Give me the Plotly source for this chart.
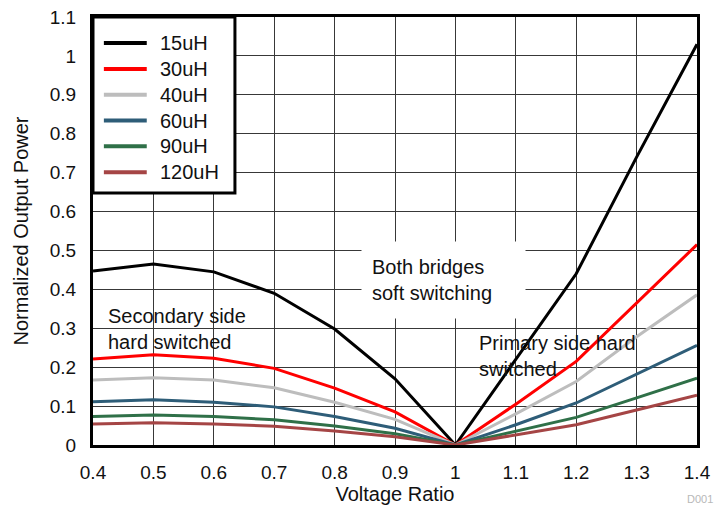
import plotly.graph_objects as go

# Voltage ratio sweep
voltage_ratio = [0.4, 0.5, 0.6, 0.7, 0.8, 0.9, 1.0, 1.1, 1.2, 1.3, 1.4]

# Normalized output power per series inductance
p_15uH = [0.447, 0.465, 0.445, 0.390, 0.298, 0.170, 0.0, 0.220, 0.440, 0.740, 1.030]
p_30uH = [0.221, 0.232, 0.223, 0.197, 0.146, 0.085, 0.0, 0.105, 0.215, 0.365, 0.515]
p_40uH = [0.167, 0.173, 0.167, 0.147, 0.110, 0.066, 0.0, 0.080, 0.163, 0.278, 0.386]
p_60uH = [0.111, 0.116, 0.110, 0.098, 0.073, 0.043, 0.0, 0.052, 0.108, 0.182, 0.256]
p_90uH = [0.073, 0.077, 0.073, 0.065, 0.049, 0.029, 0.0, 0.035, 0.071, 0.121, 0.172]
p_120uH = [0.054, 0.057, 0.054, 0.048, 0.036, 0.021, 0.0, 0.026, 0.052, 0.090, 0.128]

series_names = ["15uH", "30uH", "40uH", "60uH", "90uH", "120uH"]
series_values = [p_15uH, p_30uH, p_40uH, p_60uH, p_90uH, p_120uH]
series_colors = ["#000000", "#FF0000", "#BDBDBD", "#2E5D78", "#2F7048", "#A54545"]

x_ticks = [0.4, 0.5, 0.6, 0.7, 0.8, 0.9, 1.0, 1.1, 1.2, 1.3, 1.4]
y_ticks = [0, 0.1, 0.2, 0.3, 0.4, 0.5, 0.6, 0.7, 0.8, 0.9, 1.0, 1.1]

FONT = "Liberation Sans, Arial, sans-serif"
TEXT = "#111111"

fig = go.Figure()
for name, vals, col in zip(series_names, series_values, series_colors):
    fig.add_trace(go.Scatter(
        x=voltage_ratio, y=vals, name=name, mode="lines",
        line=dict(color=col, width=3), showlegend=False,
    ))

fig.update_layout(
    width=717, height=507,
    margin=dict(l=93, r=20, t=17, b=62),
    paper_bgcolor="white", plot_bgcolor="white",
    font=dict(family=FONT, size=19, color=TEXT),
    xaxis=dict(
        range=[0.4, 1.4], tickvals=x_ticks, ticktext=[f"{v:g}" for v in x_ticks],
        showgrid=True, gridcolor="#383838", gridwidth=1,
        showline=True, linecolor="black", linewidth=3, mirror=True,
        ticks="", ticklabelstandoff=8, zeroline=False, automargin=False,
        title=dict(text="Voltage Ratio", font=dict(size=20), standoff=6),
        tickfont=dict(size=19),
    ),
    yaxis=dict(
        range=[0, 1.1], tickvals=y_ticks, ticktext=[f"{v:g}" for v in y_ticks],
        showgrid=True, gridcolor="#383838", gridwidth=1,
        showline=True, linecolor="black", linewidth=3, mirror=True,
        ticks="", ticklabelstandoff=10, zeroline=False, automargin=False,
        title=dict(text="Normalized Output Power", font=dict(size=20), standoff=16),
        tickfont=dict(size=19),
    ),
)

# Legend panel in the upper-left corner of the plot area
leg_x0, leg_x1, leg_y0, leg_y1 = 0.0, 0.235, 0.589, 1.0
fig.add_shape(type="rect", xref="paper", yref="paper",
              x0=leg_x0, x1=leg_x1, y0=leg_y0, y1=leg_y1,
              fillcolor="white", line=dict(color="black", width=3), layer="above")
row_top, row_step = 0.939, 0.0603
for i, (name, col) in enumerate(zip(series_names, series_colors)):
    yy = row_top - i * row_step
    fig.add_shape(type="line", xref="paper", yref="paper",
                  x0=0.018, x1=0.089, y0=yy, y1=yy,
                  line=dict(color=col, width=4), layer="above")
    fig.add_annotation(x=0.107, y=yy, xref="paper", yref="paper",
                       xanchor="left", yanchor="middle", text=name,
                       showarrow=False, font=dict(size=20, color=TEXT))

fig.add_annotation(
    x=0.98, y=0.424, xref="x", yref="y",
    text="Both bridges<br>soft switching", showarrow=False,
    align="left", bgcolor="white", borderpad=10, width=143, height=56,
    font=dict(size=20, color=TEXT),
)
fig.add_annotation(
    x=0.422, y=0.297, xref="x", yref="y", xanchor="left",
    text="Secondary side<br>hard switched", showarrow=False, align="left",
    font=dict(size=20, color=TEXT),
)
fig.add_annotation(
    x=1.036, y=0.229, xref="x", yref="y", xanchor="left",
    text="Primary side hard<br>switched", showarrow=False, align="left",
    font=dict(size=20, color=TEXT),
)
fig.add_annotation(
    x=1.0, y=0.0, xref="paper", yref="paper", xanchor="right", yanchor="bottom",
    xshift=18, yshift=-62,
    text="D001", showarrow=False, font=dict(size=11, color="#b8b8b8"),
)

fig.write_html("out.html")
